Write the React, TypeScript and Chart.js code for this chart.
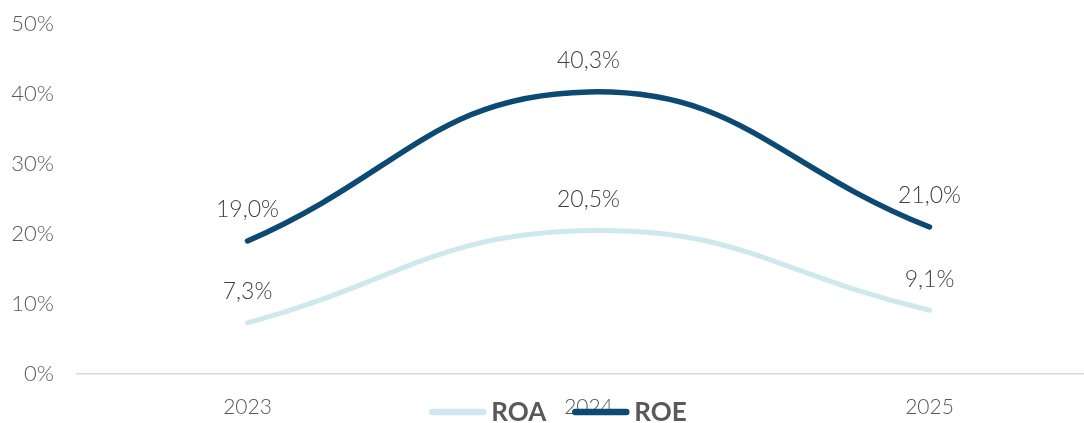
import React, { useEffect, useRef } from "react";
import { Chart, registerables } from "chart.js";

Chart.register(...registerables);

const categories = ["2023", "2024", "2025"];
const roaValues = [7.3, 20.5, 9.1];
const roeValues = [19.0, 40.3, 21.0];
const seriesNames = ["ROA", "ROE"];
const seriesColors = ["#CDE8EE", "#0C4A74"];
const yTicks = [0, 10, 20, 30, 40, 50];

const FONT = "Lato, 'Open Sans', sans-serif";
const TEXT = "#595959";

const fmt = (v: number) => v.toFixed(1).replace(".", ",") + "%";

const labelPlugin = {
  id: "valueLabels",
  afterDatasetsDraw(chart: any) {
    const ctx = chart.ctx;
    ctx.save();
    ctx.font = `300 23px ${FONT}`;
    ctx.fillStyle = "#404040";
    ctx.textAlign = "center";
    ctx.textBaseline = "middle";
    chart.data.datasets.forEach((ds: any, i: number) => {
      const meta = chart.getDatasetMeta(i);
      meta.data.forEach((pt: any, j: number) => {
        ctx.fillText(fmt(ds.data[j]), pt.x, pt.y - 31);
      });
    });
    ctx.restore();
  },
};

const legendPlugin = {
  id: "customLegend",
  afterDraw(chart: any) {
    const ctx = chart.ctx;
    ctx.save();
    ctx.font = `bold 26px ${FONT}`;
    ctx.textBaseline = "middle";
    const y = 412;
    const lineLen = 57;
    const gapAfterLine = 5;
    const gapAfterText = 26;
    const items = chart.data.datasets.map((ds: any) => ({
      label: ds.label,
      color: ds.borderColor,
      w: ctx.measureText(ds.label).width,
    }));
    const total = items.reduce(
      (s: number, it: any, i: number) => s + lineLen + gapAfterLine + it.w + (i < items.length - 1 ? gapAfterText : 0),
      0
    );
    let x = 558 - total / 2;
    items.forEach((it: any) => {
      ctx.strokeStyle = it.color;
      ctx.lineWidth = 6.5;
      ctx.lineCap = "round";
      ctx.beginPath();
      ctx.moveTo(x + 3, y);
      ctx.lineTo(x + lineLen - 3, y);
      ctx.stroke();
      x += lineLen + gapAfterLine;
      ctx.fillStyle = TEXT;
      ctx.textAlign = "left";
      ctx.fillText(it.label, x, y + 1);
      x += it.w + gapAfterText;
    });
    ctx.restore();
  },
};

export default function App() {
  const ref = useRef<HTMLCanvasElement>(null);
  useEffect(() => {
    if (!ref.current) return;
    const chart = new Chart(ref.current, {
      type: "line",
      data: {
        labels: categories,
        datasets: [
          {
            label: seriesNames[0],
            data: roaValues,
            borderColor: seriesColors[0],
            backgroundColor: seriesColors[0],
            borderWidth: 5,
            borderCapStyle: "round",
            pointRadius: 0,
            tension: 0.45,
          },
          {
            label: seriesNames[1],
            data: roeValues,
            borderColor: seriesColors[1],
            backgroundColor: seriesColors[1],
            borderWidth: 5.5,
            borderCapStyle: "round",
            pointRadius: 0,
            tension: 0.45,
          },
        ],
      },
      options: {
        animation: false,
        responsive: false,
        maintainAspectRatio: false,
        layout: { padding: { top: 24, left: 0, right: 0, bottom: 0 } },
        plugins: {
          legend: { display: false },
          tooltip: { enabled: false },
          title: { display: false },
        },
        scales: {
          x: {
            offset: true,
            grid: { display: false, drawTicks: false },
            border: { display: true, color: "#D9D9D9", width: 1.5 },
            ticks: {
              color: TEXT,
              font: { family: FONT, size: 21, weight: "300" },
              padding: 21,
              maxRotation: 0,
            },
            afterFit(scale: any) {
              scale.height = 49;
            },
          },
          y: {
            min: 0,
            max: 50,
            grid: { display: false, drawTicks: false },
            border: { display: false },
            afterBuildTicks(scale: any) {
              scale.ticks = yTicks.map((v) => ({ value: v }));
            },
            ticks: {
              color: TEXT,
              font: { family: FONT, size: 22, weight: "300" },
              padding: 23,
              callback: (v: any) => v + "%",
            },
            afterFit(scale: any) {
              scale.width = 77;
              scale.paddingTop = 12;
              scale.paddingBottom = 12;
            },
          },
        },
      },
      plugins: [labelPlugin, legendPlugin],
    });
    return () => chart.destroy();
  }, []);
  return (
    <div style={{ position: "fixed", left: 0, top: 0, width: 1100, height: 423 }}>
      <canvas ref={ref} width={1100} height={423} style={{ display: "block" }} />
    </div>
  );
}
